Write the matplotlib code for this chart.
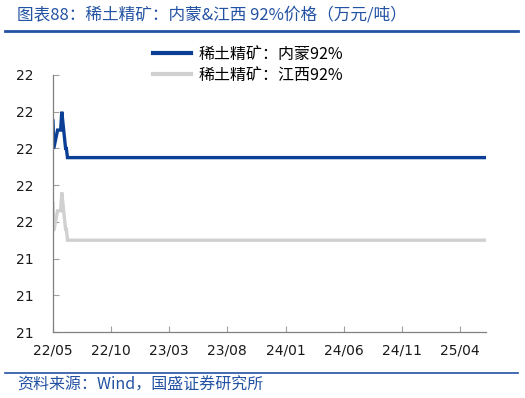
import matplotlib
matplotlib.use("Agg")
import matplotlib.pyplot as plt
import matplotlib.dates as mdates
from matplotlib.lines import Line2D
from matplotlib.ticker import FixedLocator, FuncFormatter
import pandas as pd
import numpy as np

plt.rcParams['font.family'] = ['Noto Sans CJK SC', 'DejaVu Sans']

title = "图表88：稀土精矿：内蒙&江西 92%价格（万元/吨）"
source = "资料来源：Wind，国盛证券研究所"
series_names = ["稀土精矿：内蒙92%", "稀土精矿：江西92%"]

dates = ["2022-05-01", "2022-05-03", "2022-05-13", "2022-05-21", "2022-05-24",
         "2022-06-03", "2022-06-05", "2022-06-08", "2025-06-09"]
nm_values = [21.775, 21.70, 21.75, 21.75, 21.80, 21.70, 21.70, 21.675, 21.675]
jx_values = [21.55, 21.475, 21.53, 21.53, 21.58, 21.48, 21.48, 21.45, 21.45]

y_ticks = [21.2, 21.3, 21.4, 21.5, 21.6, 21.7, 21.8, 21.9]
x_tick_labels = ["22/05", "22/10", "23/03", "23/08", "24/01", "24/06", "24/11", "25/04"]
x_tick_dates = ["2022-05-01", "2022-10-01", "2023-03-01", "2023-08-01",
                "2024-01-01", "2024-06-01", "2024-11-01", "2025-04-01"]

blue = "#0A3F95"
gray = "#D0D0D0"
hdr = "#2352A3"

fig = plt.figure(figsize=(5.25, 3.98), dpi=100)
ax = fig.add_axes([53/525, 1-332/398, (486-53)/525, (332-75)/398])

d = pd.to_datetime(dates)
ax.plot(d, nm_values, color=blue, lw=2.4, solid_joinstyle='miter')
ax.plot(d, jx_values, color=gray, lw=2.4, solid_joinstyle='miter')

ax.set_xlim(pd.Timestamp("2022-05-01"), pd.Timestamp("2025-06-09"))
ax.set_ylim(21.2, 21.9)
ax.yaxis.set_major_locator(FixedLocator(y_ticks))
ax.yaxis.set_major_formatter(FuncFormatter(lambda v, p: str(int(np.floor(v + 0.5 + 1e-9)))))
xt = mdates.date2num(pd.to_datetime(x_tick_dates))
ax.set_xticks(xt)
ax.set_xticklabels(x_tick_labels)

for s in ['top', 'right']:
    ax.spines[s].set_visible(False)
for s in ['left', 'bottom']:
    ax.spines[s].set_color('#808080')
    ax.spines[s].set_linewidth(0.9)
ax.tick_params(axis='both', direction='in', length=4, width=0.8, color='#a0a0a0',
               labelsize=10, labelcolor='#1a1a1a')
ax.tick_params(axis='y', pad=14)
ax.tick_params(axis='x', pad=8)
for lab in ax.get_xticklabels() + ax.get_yticklabels():
    lab.set_family('DejaVu Sans')

handles = [Line2D([0], [0], color=blue, lw=3), Line2D([0], [0], color=gray, lw=3)]
fig.legend(handles, series_names, loc='upper left', bbox_to_anchor=(153/525, 1-46/398),
           frameon=False, fontsize=11.5, handlelength=2.4, handletextpad=0.45,
           labelspacing=0.25, borderaxespad=0, borderpad=0)

fig.text(17/525, 1-15/398, title, fontsize=12, color=hdr, va='center', ha='left', style='italic')
fig.add_artist(Line2D([5/525, 518/525], [1-31/398, 1-31/398], color=hdr, lw=2))
fig.add_artist(Line2D([5/525, 518/525], [1-373/398, 1-373/398], color=hdr, lw=1.2))
fig.text(17/525, 1-385/398, source, fontsize=11.5, color=hdr, va='center', ha='left', style='italic')

fig.savefig("out.png", dpi=100)
